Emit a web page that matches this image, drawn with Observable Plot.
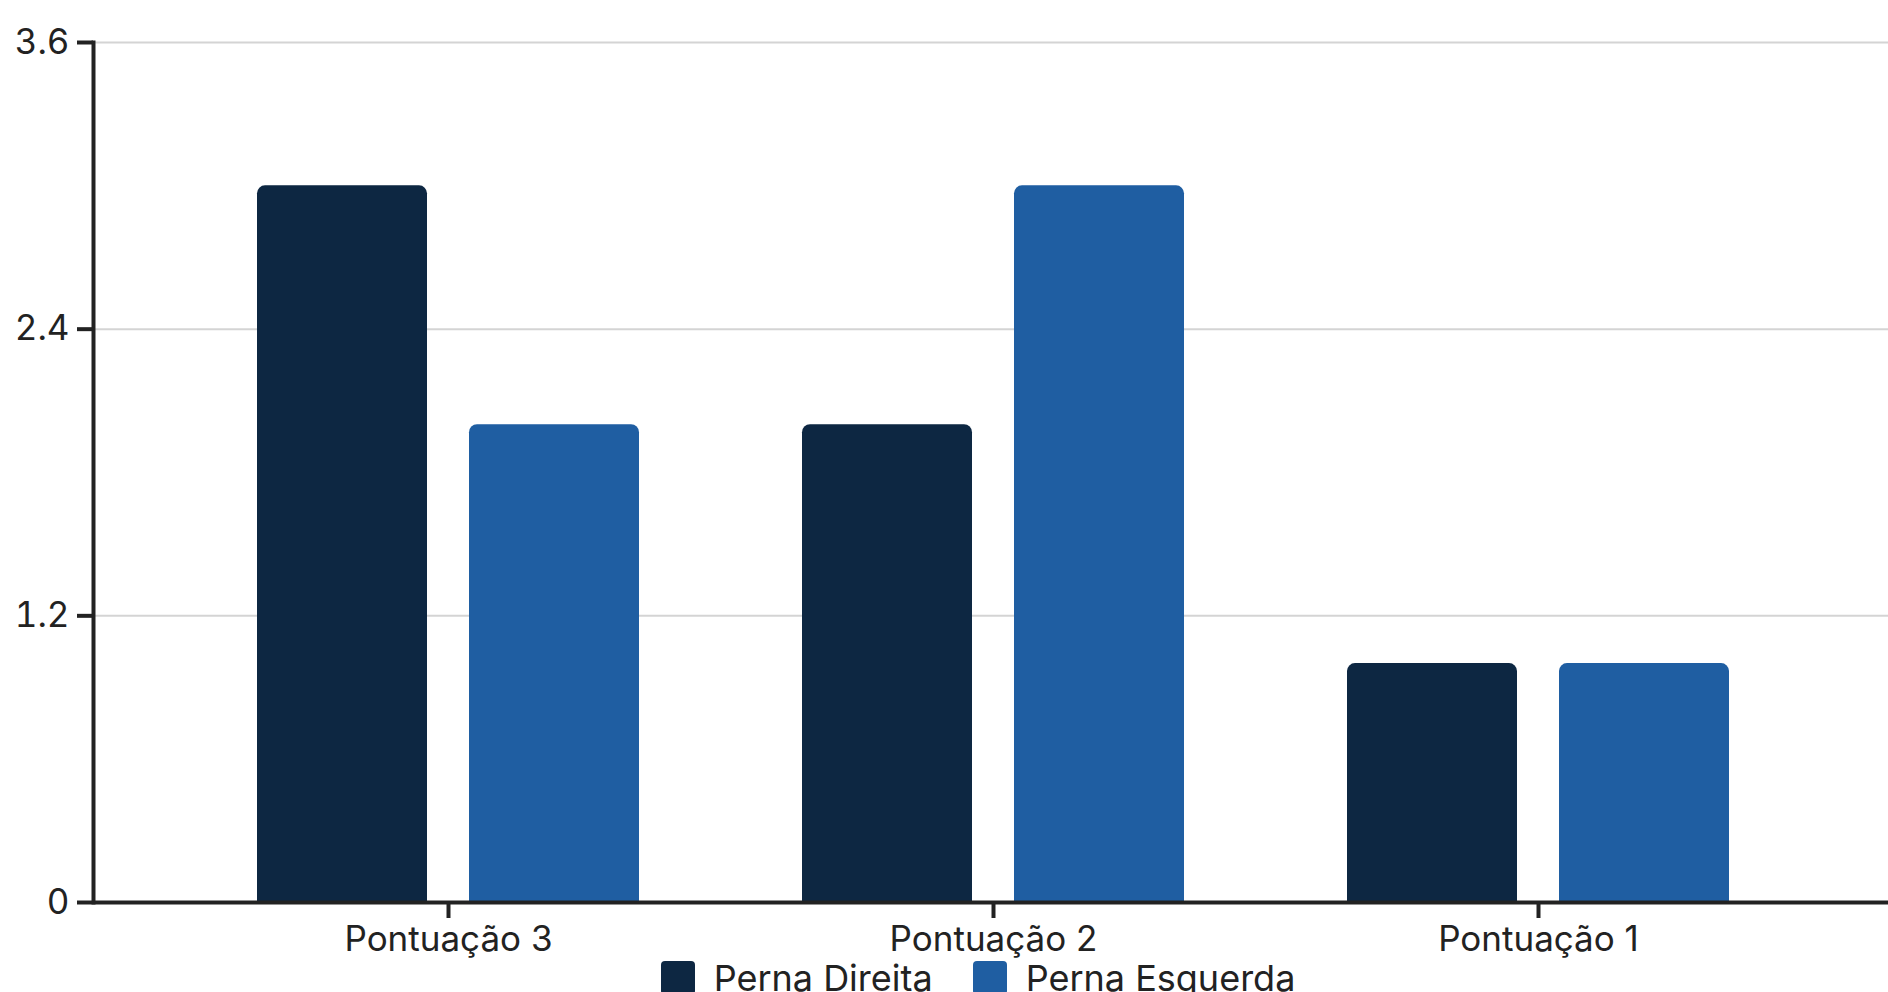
<!DOCTYPE html>
<html><head><meta charset="utf-8">
<script src="https://cdn.jsdelivr.net/npm/d3@7"></script>
<script src="https://cdn.jsdelivr.net/npm/@observablehq/plot@0.6"></script>
<style>
html,body{margin:0;padding:0;background:#fff;font-family:Inter,sans-serif;overflow:hidden}
#legend{display:flex;justify-content:center;gap:40px;padding-left:68px;margin-top:6px;font-size:36px;color:#222;line-height:34px}
#legend .item{display:flex;align-items:center;gap:19px}
#legend .sw{width:34px;height:34px;border-radius:4px;display:inline-block}
</style></head><body><div id="chart"></div><div id="legend"></div><script>
const groups = ["Pontuação 3", "Pontuação 2", "Pontuação 1"];
const series = ["Perna Direita", "Perna Esquerda"];
const direita = [3, 2, 1];
const esquerda = [2, 3, 1];
const yTicks = [0, 1.2, 2.4, 3.6];
const colors = ["#0d2742", "#1f5ea2"];

const values = [direita, esquerda];
const data = series.map((s, j) => groups.map((g, i) => ({group: g, series: s, value: values[j][i]})));

const W = 1888, H = 955, ML = 93, MR = 0, MT = 42, MB = 53;
const xRange = [93, 1892];
const groupPadding = 0.3, innerPadding = 0.2;
// mirror Plot's band scale to split each group band between the two series
const xs = d3.scaleBand(groups, xRange).padding(groupPadding);
const bw = xs.bandwidth();
const inner = d3.scaleBand(series, [0, bw]).paddingInner(innerPadding).paddingOuter(0);

const barMarks = series.map((s, j) => Plot.barY(data[j], {
  x: "group", y: "value", fill: "series", ry1: 8,
  insetLeft: inner(s), insetRight: bw - inner(s) - inner.bandwidth()
}));

const plot = Plot.plot({
  width: W, height: H,
  marginLeft: ML, marginRight: MR, marginTop: MT, marginBottom: MB,
  style: {fontFamily: "Inter, sans-serif", fontSize: "35px", color: "#222", background: "#fff", overflow: "visible"},
  x: {domain: groups, range: xRange, padding: groupPadding, label: null},
  y: {domain: [0, 3.6], label: null},
  color: {domain: series, range: colors},
  marks: [
    Plot.ruleY(yTicks.slice(1), {stroke: "#d4d4d4", strokeWidth: 2}),
    ...barMarks,
    Plot.ruleY([0], {stroke: "#222", strokeWidth: 4}),
    Plot.frame({anchor: "left", stroke: "#222", strokeWidth: 4}),
    Plot.axisY({ticks: yTicks, tickSize: 16, tickPadding: 8, tickFormat: d => String(d), strokeWidth: 4, stroke: "#222", label: null, fontSize: 35}),
    Plot.axisX({tickSize: 16, tickPadding: 8, label: null, strokeWidth: 4, stroke: "#222", fontSize: 35})
  ]
});
document.getElementById("chart").appendChild(plot);

const color = plot.scale("color");
const legend = document.getElementById("legend");
color.domain.forEach((s, i) => {
  const item = document.createElement("div");
  item.className = "item";
  const sw = document.createElement("span");
  sw.className = "sw";
  sw.style.background = color.range[i];
  const t = document.createElement("span");
  t.textContent = s;
  item.appendChild(sw); item.appendChild(t);
  legend.appendChild(item);
});
</script></body></html>
